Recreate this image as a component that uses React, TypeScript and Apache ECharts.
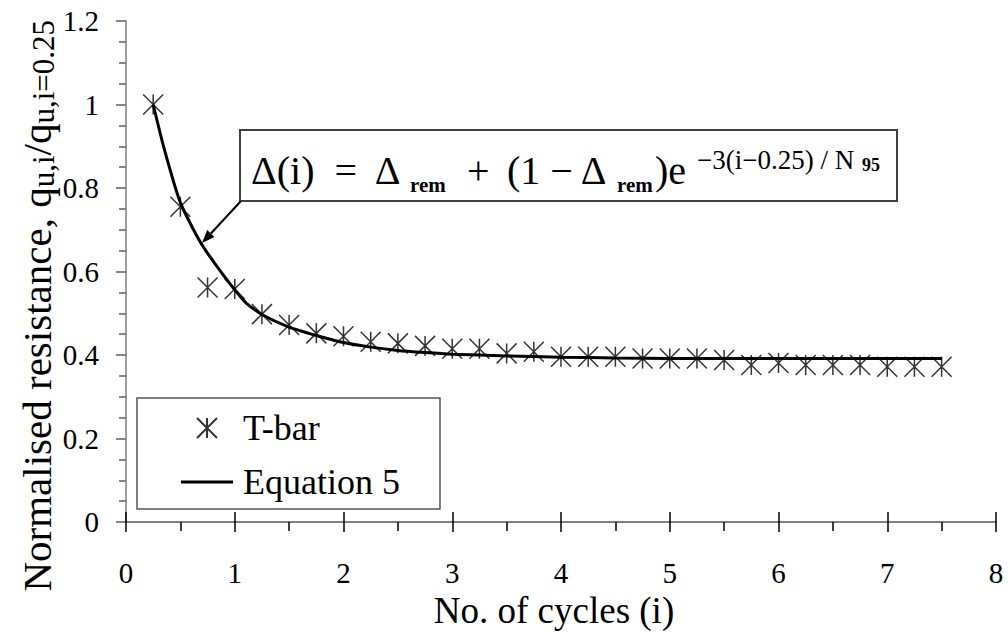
import React, { useEffect, useRef } from "react";
import * as echarts from "echarts";

const FONT = "Liberation Serif";

// T-bar measurements: cycle number and normalised resistance
const cycles = [0.25, 0.5, 0.75, 1.0, 1.25, 1.5, 1.75, 2.0, 2.25, 2.5, 2.75, 3.0, 3.25, 3.5, 3.75,
  4.0, 4.25, 4.5, 4.75, 5.0, 5.25, 5.5, 5.75, 6.0, 6.25, 6.5, 6.75, 7.0, 7.25, 7.5];
const tbar = [1.0, 0.755, 0.562, 0.558, 0.498, 0.472, 0.452, 0.445, 0.432, 0.428, 0.422, 0.415, 0.415, 0.404, 0.408,
  0.396, 0.396, 0.396, 0.392, 0.392, 0.392, 0.388, 0.376, 0.381, 0.376, 0.376, 0.376, 0.372, 0.372, 0.372];

// Equation 5 curve
const eqX = [0.25, 0.35, 0.5, 0.68, 0.88, 1.1, 1.25, 1.5, 1.75, 2.0, 2.25, 2.5, 2.75, 3.0, 3.5, 4.0, 4.5, 5.0, 6.0, 7.0, 7.5];
const eqY = [1.0, 0.895, 0.765, 0.672, 0.597, 0.526, 0.497, 0.467, 0.447, 0.43, 0.419, 0.411, 0.406, 0.402, 0.398, 0.395, 0.393, 0.392, 0.392, 0.392, 0.392];

const seriesNames = ["T-bar", "Equation 5"];
const xAxisTitle = "No. of cycles (i)";

const STAR = "path://M0,0L20,20M20,0L0,20M10,0L10,20";
const LINE_ICON = "path://M0,0L52,0L52,3L0,3Z";

export default function App() {
  const ref = useRef<HTMLDivElement>(null);
  useEffect(() => {
    document.body.style.margin = "0";
    if (!ref.current) return;
    const chart = echarts.init(ref.current, undefined, { renderer: "svg" });
    const tipX = 202, tipY = 243, fromX = 241, fromY = 201;
    const dx = fromX - tipX, dy = fromY - tipY;
    const len = Math.sqrt(dx * dx + dy * dy);
    const ux = dx / len, uy = dy / len;
    const hl = 13, hw = 5;
    const bx = tipX + ux * hl, by = tipY + uy * hl;
    const head = [[tipX, tipY], [bx - uy * hw, by + ux * hw], [bx + uy * hw, by - ux * hw]];

    const t = (text: string, x: number, y: number, size: number, bold = false) => ({
      type: "text", x, y, z: 101,
      style: {
        text, fontFamily: FONT, fontSize: size, fontWeight: bold ? "bold" : "normal",
        fill: "#000", align: "left", verticalAlign: "middle",
      },
    });

    chart.setOption({
      animation: false,
      backgroundColor: "#fff",
      grid: { left: 126, right: 12, top: 21, bottom: 107 },
      xAxis: [
        {
          type: "value", min: 0, max: 8, interval: 1,
          axisLine: { show: true, lineStyle: { color: "#808080", width: 2 } },
          axisTick: { show: true, length: 10, lineStyle: { color: "#000", width: 1.5 } },
          minorTick: { show: true, splitNumber: 2, length: 9, lineStyle: { color: "#000", width: 1.5 } },
          splitLine: { show: false },
          axisLabel: { fontFamily: FONT, fontSize: 29, color: "#000", margin: 36 },
          name: xAxisTitle, nameLocation: "middle", nameGap: 62,
          nameTextStyle: { fontFamily: FONT, fontSize: 37, color: "#000", padding: [0, 14, 0, 0] },
        },
        {
          type: "value", min: 0, max: 8, interval: 1, position: "bottom",
          axisLine: { show: false },
          axisTick: { show: true, inside: true, length: 10, lineStyle: { color: "#000", width: 1.5 } },
          axisLabel: { show: false },
          splitLine: { show: false },
        },
      ],
      yAxis: {
        type: "value", min: 0, max: 1.2, interval: 0.2,
        axisLine: { show: true, lineStyle: { color: "#808080", width: 1.5 } },
        axisTick: { show: true, length: 10, lineStyle: { color: "#606060", width: 1.5 } },
        minorTick: { show: true, splitNumber: 4, length: 7, lineStyle: { color: "#606060", width: 1.5 } },
        splitLine: { show: false },
        axisLabel: { fontFamily: FONT, fontSize: 29, color: "#000", margin: 27 },
      },
      legend: {
        orient: "vertical", left: 137, top: 398,
        padding: [10, 40, 7, 44],
        itemWidth: 52, itemHeight: 20, itemGap: 14,
        symbolKeepAspect: true,
        borderColor: "#555", borderWidth: 1.5, backgroundColor: "#fff",
        textStyle: { fontFamily: FONT, fontSize: 36, color: "#000", lineHeight: 40, padding: [0, 0, 0, 5] },
        data: [{ name: seriesNames[0] }, { name: seriesNames[1], icon: LINE_ICON }],
      },
      series: [
        {
          name: seriesNames[0], type: "scatter",
          data: cycles.map((c, i) => [c, tbar[i]]),
          symbol: STAR, symbolSize: 20, symbolKeepAspect: true,
          itemStyle: { color: "#000", borderColor: "#000", borderWidth: 1.5 },
          z: 3,
        },
        {
          name: seriesNames[1], type: "line",
          data: eqX.map((c, i) => [c, eqY[i]]),
          symbol: "none", smooth: 0.2,
          lineStyle: { color: "#000", width: 3 },
          itemStyle: { color: "#000" },
          z: 4,
        },
      ],
      graphic: [
        {
          type: "text", x: 37, y: 20, rotation: Math.PI / 2, z: 100,
          style: {
            text: "{n|Normalised resistance, q}{s|u,i}{n|/q}{s|u,i=0.25}",
            align: "right", verticalAlign: "middle",
            rich: {
              n: { fontFamily: FONT, fontSize: 41, lineHeight: 44, fill: "#000", verticalAlign: "middle" },
              s: { fontFamily: FONT, fontSize: 31, lineHeight: 30, fill: "#000", verticalAlign: "bottom" },
            },
          },
        },
        {
          type: "rect", z: 100,
          shape: { x: 240, y: 130, width: 657, height: 71 },
          style: { fill: "#fff", stroke: "#404040", lineWidth: 2 },
        },
        t("\u0394(i)  =  \u0394", 251, 170, 40),
        t("rem", 410, 185, 21, true),
        t("+", 467, 170, 40),
        t("(1 \u2212 \u0394", 507, 170, 40),
        t("rem", 617, 185, 21, true),
        t(")e", 655, 170, 40),
        t("\u22123(i\u22120.25) / N", 697, 159.5, 27),
        t("95", 862, 165, 18, true),
        {
          type: "line", z: 102,
          shape: { x1: fromX, y1: fromY, x2: bx, y2: by },
          style: { stroke: "#000", lineWidth: 2 },
        },
        {
          type: "polygon", z: 102,
          shape: { points: head },
          style: { fill: "#000" },
        },
      ],
    });
    return () => chart.dispose();
  }, []);
  return <div ref={ref} style={{ width: 1008, height: 634 }} />;
}
